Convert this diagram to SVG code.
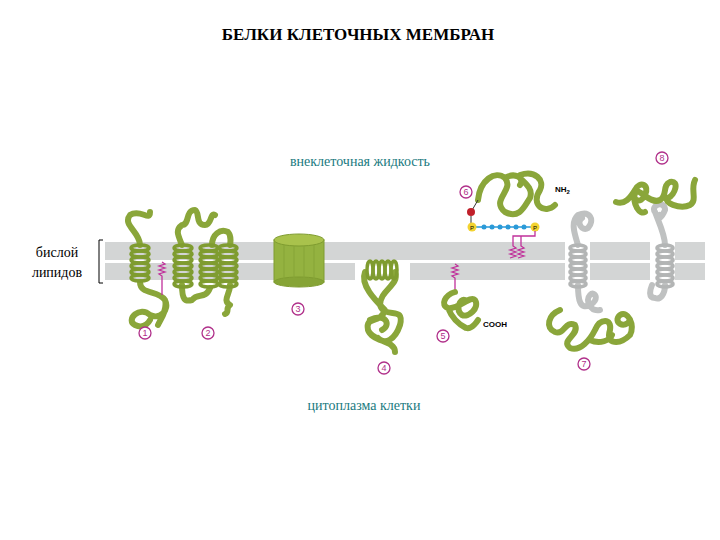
<svg xmlns="http://www.w3.org/2000/svg" width="720" height="540" viewBox="0 0 720 540">
<style>
.t{font-family:"Liberation Serif",serif}
.g{fill:none;stroke:#8aa63a;stroke-width:6;stroke-linecap:round;stroke-linejoin:round}
.w{fill:none;stroke:#bfc1c1;stroke-width:6;stroke-linecap:round}
.c{fill:#fff;stroke:#b0308a;stroke-width:1.3}
.n{font-family:"Liberation Sans",sans-serif;font-size:9px;fill:#b0308a;text-anchor:middle}
.z{fill:none;stroke:#c0309a;stroke-width:1.3}
.band{fill:#d3d5d5}
</style>
<defs>
<g id="coil"><ellipse cx="0" cy="0" rx="9" ry="3" fill="none" stroke="#7f9c30" stroke-width="3.5"/></g>
<g id="coilw"><ellipse cx="0" cy="0" rx="8" ry="3" fill="none" stroke="#b3b5b5" stroke-width="3.5"/></g>
</defs>
<rect width="720" height="540" fill="#fff"/>
<text class="t" x="358" y="40" font-size="17" font-weight="bold" text-anchor="middle">БЕЛКИ КЛЕТОЧНЫХ МЕМБРАН</text>
<text class="t" x="360" y="166" font-size="14" fill="#1a7a80" text-anchor="middle">внеклеточная жидкость</text>
<text class="t" x="364" y="410" font-size="14" fill="#1a7a80" text-anchor="middle">цитоплазма клетки</text>
<text class="t" x="57" y="257" font-size="14" text-anchor="middle">бислой</text>
<text class="t" x="57" y="277" font-size="14" text-anchor="middle">липидов</text>
<path d="M103 240 H99 V283 H103" fill="none" stroke="#000" stroke-width="1"/>
<g id="membrane">
<rect class="band" x="105" y="242" width="600" height="18"/>
<rect class="band" x="105" y="263" width="600" height="17"/>
<rect x="355" y="262" width="55" height="20" fill="#fff"/>
<rect x="565" y="240" width="25" height="42" fill="#fff"/>
<rect x="650" y="240" width="25" height="42" fill="#fff"/>
</g>
<g id="p1">
<path class="g" d="M150 212 C150 222 140 208 130 215 C122 225 140 232 140 245 M140 282 C140 295 158 290 165 300 C170 310 160 320 150 315 C140 305 125 320 135 325 C145 330 150 320 150 320 M165 300 C168 310 160 320 158 325"/>
<g fill="none"><use href="#coil" x="140" y="248"/><use href="#coil" x="140" y="254"/><use href="#coil" x="140" y="260"/><use href="#coil" x="140" y="266"/><use href="#coil" x="140" y="272"/><use href="#coil" x="140" y="278"/></g>
<path class="z" d="M162 262 l3 2 -6 2 6 2 -6 2 6 2 -6 2 3 2 V295"/>
<circle class="c" cx="145" cy="333" r="6"/><text class="n" x="145" y="336">1</text>
</g>
<g id="p2">
<path class="g" d="M182 245 C178 235 175 230 182 225 C190 225 185 210 195 210 C200 212 195 225 205 225 C212 225 210 212 215 215 M212 245 C212 235 220 228 228 232 C232 236 230 245 230 245 M182 285 C182 300 185 302 192 300 C198 292 205 300 210 288 M230 285 C230 295 222 300 230 305 C225 308 230 312 225 314"/>
<g><use href="#coil" x="183" y="248"/><use href="#coil" x="183" y="254"/><use href="#coil" x="183" y="260"/><use href="#coil" x="183" y="266"/><use href="#coil" x="183" y="272"/><use href="#coil" x="183" y="278"/><use href="#coil" x="183" y="284"/>
<use href="#coil" x="209" y="248"/><use href="#coil" x="209" y="254"/><use href="#coil" x="209" y="260"/><use href="#coil" x="209" y="266"/><use href="#coil" x="209" y="272"/><use href="#coil" x="209" y="278"/><use href="#coil" x="209" y="284"/>
<use href="#coil" x="228" y="248"/><use href="#coil" x="228" y="254"/><use href="#coil" x="228" y="260"/><use href="#coil" x="228" y="266"/><use href="#coil" x="228" y="272"/><use href="#coil" x="228" y="278"/><use href="#coil" x="228" y="284"/></g>
<circle class="c" cx="208" cy="333" r="6"/><text class="n" x="208" y="336">2</text>
</g>
<g id="p3">
<rect x="274" y="240" width="50" height="42" fill="#94b240" stroke="#7f9c30"/>
<ellipse cx="299" cy="240" rx="25" ry="6" fill="#a9c24c" stroke="#7f9c30"/>
<ellipse cx="299" cy="282" rx="25" ry="5" fill="#86a436" stroke="#7f9c30"/>
<path d="M284 245 V280 M294 246 V282 M304 246 V282 M314 245 V280" stroke="#86a436" stroke-width="1"/>
<circle class="c" cx="298" cy="309" r="6"/><text class="n" x="298" y="312">3</text>
</g>
<g id="p4">
<path class="g" d="M365 272 C360 285 375 300 385 310 C380 325 365 315 368 330 C372 342 395 340 395 352 M395 272 C400 285 380 290 380 305 C385 320 405 305 400 325 C395 340 385 345 378 338 M370 320 C385 312 392 325 382 330"/>
<g><use href="#coil" x="370" y="270" transform="rotate(90 370 270)"/><use href="#coil" x="376" y="270" transform="rotate(90 376 270)"/><use href="#coil" x="382" y="270" transform="rotate(90 382 270)"/><use href="#coil" x="388" y="270" transform="rotate(90 388 270)"/><use href="#coil" x="394" y="270" transform="rotate(90 394 270)"/></g>
<circle class="c" cx="384" cy="368" r="6"/><text class="n" x="384" y="371">4</text>
</g>
<g id="p5">
<path class="z" d="M455 264 l3 2 -6 2 6 2 -6 2 6 2 -6 2 3 2 V292"/>
<path class="g" d="M455 292 C445 295 440 305 448 308 C458 310 470 295 475 300 C480 308 468 318 462 315 C455 310 460 298 465 300 M448 308 C452 318 460 325 466 328 C472 330 478 320 478 320"/>
<text x="483" y="327" font-family="Liberation Sans,sans-serif" font-size="8" font-weight="bold">COOH</text>
<circle class="c" cx="443" cy="336" r="6"/><text class="n" x="443" y="339">5</text>
</g>
<g id="p6">
<path class="g" d="M478 200 C480 180 495 170 505 178 C515 190 490 200 505 212 C520 220 525 205 530 198 C535 185 515 178 520 175 C535 170 545 180 540 190 C530 205 545 215 555 205 M505 178 C515 172 525 178 520 185"/>
<path d="M478 200 L471 212" stroke="#333" stroke-width="1"/>
<circle cx="471" cy="212" r="4" fill="#c0202a"/>
<path d="M471 216 V225" stroke="#333" stroke-width="1"/>
<line x1="472" y1="227" x2="535" y2="227" stroke="#2a9ad8" stroke-width="1.5"/>
<g fill="#2a9ad8"><circle cx="484" cy="227" r="2.5"/><circle cx="492" cy="227" r="2.5"/><circle cx="500" cy="227" r="2.5"/><circle cx="508" cy="227" r="2.5"/><circle cx="516" cy="227" r="2.5"/><circle cx="524" cy="227" r="2.5"/></g>
<circle cx="472" cy="227" r="4.5" fill="#f3d330"/><circle cx="535" cy="227" r="4.5" fill="#f3d330"/>
<text x="472" y="229.5" font-family="Liberation Sans,sans-serif" font-size="6" text-anchor="middle">P</text>
<text x="535" y="229.5" font-family="Liberation Sans,sans-serif" font-size="6" text-anchor="middle">P</text>
<path class="z" d="M535 231 V236 H513 V246 l3 2 -6 2 6 2 -6 2 6 2 -6 2 M521 236 V246 l3 2 -6 2 6 2 -6 2 6 2 -6 2"/>
<text x="555" y="192" font-family="Liberation Sans,sans-serif" font-size="8" font-weight="bold">NH<tspan font-size="6" dy="2">2</tspan></text>
<circle class="c" cx="466" cy="192" r="6"/><text class="n" x="466" y="195">6</text>
</g>
<g id="p7">
<path class="w" d="M578 245 C575 235 570 222 578 215 C590 210 595 220 588 228 C582 232 576 222 582 218 M578 285 C578 300 580 310 590 305 C600 300 595 290 590 295 C585 300 590 312 600 310"/>
<g><use href="#coilw" x="578" y="248"/><use href="#coilw" x="578" y="254"/><use href="#coilw" x="578" y="260"/><use href="#coilw" x="578" y="266"/><use href="#coilw" x="578" y="272"/><use href="#coilw" x="578" y="278"/><use href="#coilw" x="578" y="284"/></g>
<path class="g" d="M560 310 C548 315 545 328 555 332 C565 335 565 320 575 325 C580 335 560 340 570 348 C580 352 590 340 595 330 C600 318 612 318 610 330 C605 345 620 345 630 335 C635 325 628 310 620 315 C612 322 625 330 630 320 M590 340 C600 345 610 340 612 335"/>
<circle class="c" cx="584" cy="364" r="6"/><text class="n" x="584" y="367">7</text>
</g>
<g id="p8">
<path class="w" d="M665 245 C665 235 660 225 655 212 C650 205 665 200 665 210 C662 218 655 222 660 215 M665 285 C665 295 660 300 655 298 C648 298 650 290 652 285"/>
<g><use href="#coilw" x="665" y="248"/><use href="#coilw" x="665" y="254"/><use href="#coilw" x="665" y="260"/><use href="#coilw" x="665" y="266"/><use href="#coilw" x="665" y="272"/><use href="#coilw" x="665" y="278"/><use href="#coilw" x="665" y="284"/></g>
<path class="g" d="M616 202 C625 205 630 198 635 190 C640 180 650 185 645 195 C640 205 632 200 635 192 C640 188 650 205 660 200 C668 195 662 185 670 182 C680 180 675 195 668 198 C662 202 680 210 690 205 C698 200 690 190 695 180 M635 192 C632 205 640 215 645 212"/>
<circle class="c" cx="662" cy="158" r="6"/><text class="n" x="662" y="161">8</text>
</g>
</svg>
